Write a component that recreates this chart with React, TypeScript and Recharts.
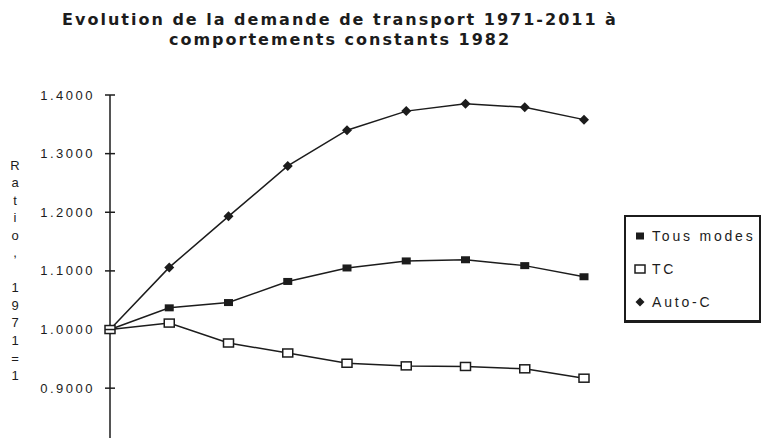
import React from 'react'
import { LineChart, Line, XAxis, YAxis } from 'recharts'

const years = ['1971', '1976', '1981', '1986', '1991', '1996', '2001', '2006', '2011']
const tousModes = [1.0, 1.037, 1.046, 1.082, 1.105, 1.117, 1.119, 1.109, 1.09]
const tc = [1.0, 1.011, 0.977, 0.96, 0.9425, 0.938, 0.937, 0.933, 0.917]
const autoC = [1.0, 1.106, 1.193, 1.279, 1.34, 1.3725, 1.385, 1.379, 1.358]
const yTicks = [0.9, 1.0, 1.1, 1.2, 1.3, 1.4]
const yLabelChars = ['R', 'a', 't', 'i', 'o', ',', ' ', '1', '9', '7', '1', '=', '1']

const data = years.map((y, i) => ({
  year: y,
  tous: tousModes[i],
  tc: tc[i],
  auto: autoC[i],
}))

const INK = '#1c1c1c'
const FONT = '"Liberation Sans", Arial, sans-serif'

const FilledSquare = (p: any) => (
  <rect key={p.index} x={p.cx - 4.5} y={p.cy - 3.5} width={9} height={7} fill={INK} />
)
const OpenSquare = (p: any) => (
  <rect key={p.index} x={p.cx - 5} y={p.cy - 4} width={10} height={8} fill="#fff" stroke={INK} strokeWidth={1.5} />
)
const Diamond = (p: any) => (
  <polygon
    key={p.index}
    points={`${p.cx},${p.cy - 5} ${p.cx + 5},${p.cy} ${p.cx},${p.cy + 5} ${p.cx - 5},${p.cy}`}
    fill={INK}
  />
)

const YTick = ({ x, y, payload }: any) => (
  <g>
    <line x1={x - 5} x2={x + 5} y1={y} y2={y} stroke={INK} strokeWidth={1.5} />
    <text x={x - 15} y={y + 4.5} textAnchor="end" fontSize={13} letterSpacing={2.5} fill={INK} fontFamily={FONT}>
      {payload.value.toFixed(4)}
    </text>
  </g>
)

const legendItems = [
  { name: 'Tous modes', icon: 'filled' },
  { name: 'TC', icon: 'open' },
  { name: 'Auto-C', icon: 'diamond' },
]

function LegendBox() {
  return (
    <div
      style={{
        position: 'absolute',
        left: 624,
        top: 215,
        width: 137,
        height: 108,
        border: `2px solid ${INK}`,
        borderBottomWidth: 3,
        background: '#fff',
        boxSizing: 'border-box',
        fontFamily: FONT,
      }}
    >
      <svg width={133} height={103} style={{ display: 'block' }}>
        {legendItems.map((it, i) => {
          const cy = 19 + i * 33
          return (
            <g key={it.name}>
              {it.icon === 'filled' && <rect x={10} y={cy - 3.5} width={8} height={7} fill={INK} />}
              {it.icon === 'open' && (
                <rect x={9} y={cy - 4} width={10} height={8} fill="#fff" stroke={INK} strokeWidth={1.5} />
              )}
              {it.icon === 'diamond' && (
                <polygon points={`14,${cy - 4.5} 18.5,${cy} 14,${cy + 4.5} 9.5,${cy}`} fill={INK} />
              )}
              <text x={26} y={cy + 5} fontSize={14} letterSpacing={2.8} fill={INK}>
                {it.name}
              </text>
            </g>
          )
        })}
      </svg>
    </div>
  )
}

export default function App() {
  return (
    <div style={{ position: 'absolute', left: 0, top: 0, width: 762, height: 438, background: '#fff', overflow: 'hidden' }}>
      <div
        style={{
          position: 'absolute',
          left: 0,
          width: 680,
          top: 10,
          textAlign: 'center',
          fontFamily: '"DejaVu Sans", sans-serif',
          fontWeight: 'bold',
          fontSize: 16,
          letterSpacing: 2,
          lineHeight: '20px',
          color: INK,
        }}
      >
        <div>Evolution de la demande de transport 1971-2011 à</div>
        <div>comportements constants 1982</div>
      </div>
      <svg style={{ position: 'absolute', left: 0, top: 0 }} width={40} height={438}>
        {yLabelChars.map((c, i) => (
          <text key={i} x={15} y={169.5 + i * 17.55} textAnchor="middle" fontSize={13} fill={INK} fontFamily={FONT}>
            {c}
          </text>
        ))}
      </svg>
      <div style={{ position: 'absolute', left: 0, top: 0 }}>
        <LineChart width={762} height={438} data={data} margin={{ top: 95, right: 178, bottom: 0, left: 0 }}>
          <XAxis dataKey="year" hide />
          <YAxis
            width={110}
            domain={[0.815, 1.4]}
            allowDataOverflow
            ticks={yTicks}
            tick={<YTick />}
            tickLine={false}
            tickSize={0}
            tickMargin={0}
            axisLine={{ stroke: INK, strokeWidth: 1.5 }}
            interval={0}
          />
          <Line dataKey="auto" name="Auto-C" stroke={INK} strokeWidth={1.5} dot={Diamond} isAnimationActive={false} />
          <Line dataKey="tous" name="Tous modes" stroke={INK} strokeWidth={1.5} dot={FilledSquare} isAnimationActive={false} />
          <Line dataKey="tc" name="TC" stroke={INK} strokeWidth={1.5} dot={OpenSquare} isAnimationActive={false} />
        </LineChart>
      </div>
      <LegendBox />
    </div>
  )
}
